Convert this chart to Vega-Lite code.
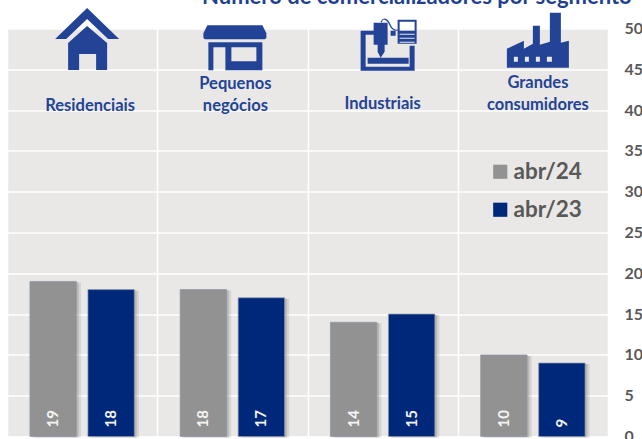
{"$schema":"https://vega.github.io/schema/vega-lite/v6.json","width":601,"height":408,"autosize":{"type":"none"},"padding":{"left":7,"top":28.5,"right":34,"bottom":2.5},"background":"#ffffff","title":{"text":"Número de comercializadores por segmento","anchor":"start","frame":"group","dx":195,"offset":-1,"fontSize":22,"font":"Lato","fontWeight":"bold","color":"#1F3F92"},"config":{"view":{"fill":"#E9E8E6","stroke":null},"font":"Lato","axis":{"title":null},"axisX":{"labels":false,"ticks":false,"domain":false,"grid":true,"tickBand":"extent","gridColor":"#ffffff","gridWidth":1.5},"axisY":{"domain":false,"ticks":false,"labelPadding":16,"labelFontSize":16,"labelFont":"Lato","labelFontWeight":"bold","labelColor":"#595959","labelAlign":"left","labelBaseline":"middle","labelOverlap":false,"labelBound":false,"labelFlush":false,"grid":true,"gridColor":"#ffffff","gridWidth":1.5}},"resolve":{"scale":{"xOffset":"independent"}},"datasets":{"bars":[{"segmento":"Residenciais","periodo":"abr/24","valor":19},{"segmento":"Residenciais","periodo":"abr/23","valor":18},{"segmento":"Pequenos negócios","periodo":"abr/24","valor":18},{"segmento":"Pequenos negócios","periodo":"abr/23","valor":17},{"segmento":"Industriais","periodo":"abr/24","valor":14},{"segmento":"Industriais","periodo":"abr/23","valor":15},{"segmento":"Grandes consumidores","periodo":"abr/24","valor":10},{"segmento":"Grandes consumidores","periodo":"abr/23","valor":9}]},"layer":[{"data":{"name":"bars"},"mark":{"type":"bar","fill":"#555555","opacity":0.14,"yOffset":1,"y2Offset":3},"encoding":{"x":{"field":"segmento","type":"nominal","sort":null,"scale":{"domain":["Residenciais","Pequenos negócios","Industriais","Grandes consumidores"],"paddingInner":0,"paddingOuter":0}},"xOffset":{"field":"periodo","type":"nominal","sort":null,"scale":{"domain":["abr/24","abr/23"],"paddingInner":0.2,"paddingOuter":0.395,"align":0.6}},"y":{"field":"valor","type":"quantitative","scale":{"domain":[0,50],"nice":false},"axis":{"orient":"right","values":[0,5,10,15,20,25,30,35,40,45,50]}}}},{"data":{"name":"bars"},"mark":{"type":"bar","fill":"#555555","opacity":0.22,"yOffset":1,"y2Offset":2},"encoding":{"x":{"field":"segmento","type":"nominal","sort":null},"xOffset":{"field":"periodo","type":"nominal","sort":null,"scale":{"domain":["abr/24","abr/23"],"paddingInner":0.2,"paddingOuter":0.395,"align":0.55}},"y":{"field":"valor","type":"quantitative","axis":{"orient":"right"}}}},{"data":{"name":"bars"},"mark":{"type":"bar","stroke":"#8C97A8","strokeWidth":0.7},"encoding":{"x":{"field":"segmento","type":"nominal","sort":null},"xOffset":{"field":"periodo","type":"nominal","sort":null,"scale":{"domain":["abr/24","abr/23"],"paddingInner":0.2,"paddingOuter":0.395}},"y":{"field":"valor","type":"quantitative","axis":{"orient":"right"}},"color":{"field":"periodo","type":"nominal","scale":{"domain":["abr/24","abr/23"],"range":["#929292","#00287A"]},"legend":{"title":null,"orient":"none","legendX":482,"legendY":132,"symbolType":"square","symbolSize":200,"symbolStrokeWidth":0,"symbolOpacity":1,"labelFontSize":22.5,"labelFont":"Lato","labelFontWeight":"bold","labelColor":"#595959","labelOffset":2,"rowPadding":15}}}},{"data":{"name":"bars"},"mark":{"type":"text","angle":270,"align":"left","baseline":"middle","dx":9,"fontSize":15,"font":"Lato","fontWeight":"bold","color":"#F5F5F5"},"encoding":{"x":{"field":"segmento","type":"nominal","sort":null},"xOffset":{"field":"periodo","type":"nominal","sort":null,"bandPosition":0.5,"scale":{"type":"band","domain":["abr/24","abr/23"],"paddingInner":0.2,"paddingOuter":0.395}},"y":{"datum":0,"type":"quantitative","axis":{"orient":"right"}},"text":{"field":"valor","type":"quantitative"}}},{"data":{"values":[{"segmento":"Residenciais","rotulo":"Residenciais","nivel":40.5}]},"mark":{"type":"text","xOffset":8,"fontSize":16.5,"font":"Lato","fontWeight":"bold","color":"#234396","baseline":"middle"},"encoding":{"x":{"field":"segmento","type":"nominal","sort":null},"y":{"field":"nivel","type":"quantitative","axis":{"orient":"right"}},"text":{"field":"rotulo"}}},{"data":{"values":[{"segmento":"Pequenos negócios","rotulo":"Pequenos\nnegócios","nivel":43.2}]},"mark":{"type":"text","xOffset":3,"fontSize":16.5,"font":"Lato","fontWeight":"bold","color":"#234396","baseline":"middle","lineBreak":"\n","lineHeight":22},"encoding":{"x":{"field":"segmento","type":"nominal","sort":null},"y":{"field":"nivel","type":"quantitative","axis":{"orient":"right"}},"text":{"field":"rotulo"}}},{"data":{"values":[{"segmento":"Industriais","rotulo":"Industriais","nivel":40.8}]},"mark":{"type":"text","fontSize":16.5,"font":"Lato","fontWeight":"bold","color":"#234396","baseline":"middle"},"encoding":{"x":{"field":"segmento","type":"nominal","sort":null},"y":{"field":"nivel","type":"quantitative","axis":{"orient":"right"}},"text":{"field":"rotulo"}}},{"data":{"values":[{"segmento":"Grandes consumidores","rotulo":"Grandes\nconsumidores","nivel":43.3}]},"mark":{"type":"text","xOffset":5,"fontSize":16.5,"font":"Lato","fontWeight":"bold","color":"#234396","baseline":"middle","lineBreak":"\n","lineHeight":22},"encoding":{"x":{"field":"segmento","type":"nominal","sort":null},"y":{"field":"nivel","type":"quantitative","axis":{"orient":"right"}},"text":{"field":"rotulo"}}},{"data":{"values":[{"segmento":"Residenciais","nivel":48.7}]},"mark":{"type":"point","xOffset":5,"filled":true,"size":4,"opacity":1,"color":"#234396","shape":"M0,-31L32,0H21L0,-20L-21,0H-32ZM0,-13L20,4V31H9V15H-8V31H-19V4Z"},"encoding":{"x":{"field":"segmento","type":"nominal","sort":null},"y":{"field":"nivel","type":"quantitative","axis":{"orient":"right"}}}},{"data":{"values":[{"segmento":"Pequenos negócios","nivel":47.7}]},"mark":{"type":"point","xOffset":3,"filled":true,"size":4,"opacity":1,"color":"#234396","shape":"M-28,-22H27L31,-14V-10Q31,-8 28,-8H-29Q-32,-8 -32,-10V-14ZM-27,-5H27V23H-27ZM-22,0V23H-10V0ZM-4,0V14H21V0Z"},"encoding":{"x":{"field":"segmento","type":"nominal","sort":null},"y":{"field":"nivel","type":"quantitative","axis":{"orient":"right"}}}},{"data":{"values":[{"segmento":"Industriais","nivel":48}]},"mark":{"type":"point","xOffset":6,"filled":true,"size":4,"opacity":1,"color":"#234396","shape":"M-28,-14H-15V-10H-23V22H21V1H26V26H-28ZM-21,13H20V19H-21ZM-15,-22H-1V0H-4V7L-8,13L-11,7V0H-15ZM9,-25H28V-1H9ZM11,-23V-14H26V-23ZM11,-11V-10H26V-11ZM11,-7V-6H26V-7ZM11,-3V-2H26V-3ZM2,-14H7V-9H2ZM-8,-23Q-6,-27 -3,-26Q0,-25 2,-20Q4,-15 9,-15V-14Q3,-14 1,-19Q-1,-24 -4,-25Q-6,-26 -7,-22Z"},"encoding":{"x":{"field":"segmento","type":"nominal","sort":null},"y":{"field":"nivel","type":"quantitative","axis":{"orient":"right"}}}},{"data":{"values":[{"segmento":"Grandes consumidores","nivel":48.5}]},"mark":{"type":"point","xOffset":5,"filled":true,"size":4,"opacity":1,"color":"#234396","shape":"M-31,8L-14,0V8L-5,3V-15H2V4L12,1V-28H23V2L31,0V27H-31ZM-24,16V21H-20V16ZM-13,16V21H-9V16ZM-2,16V21H2V16ZM9,16V21H14V16Z"},"encoding":{"x":{"field":"segmento","type":"nominal","sort":null},"y":{"field":"nivel","type":"quantitative","axis":{"orient":"right"}}}}]}
